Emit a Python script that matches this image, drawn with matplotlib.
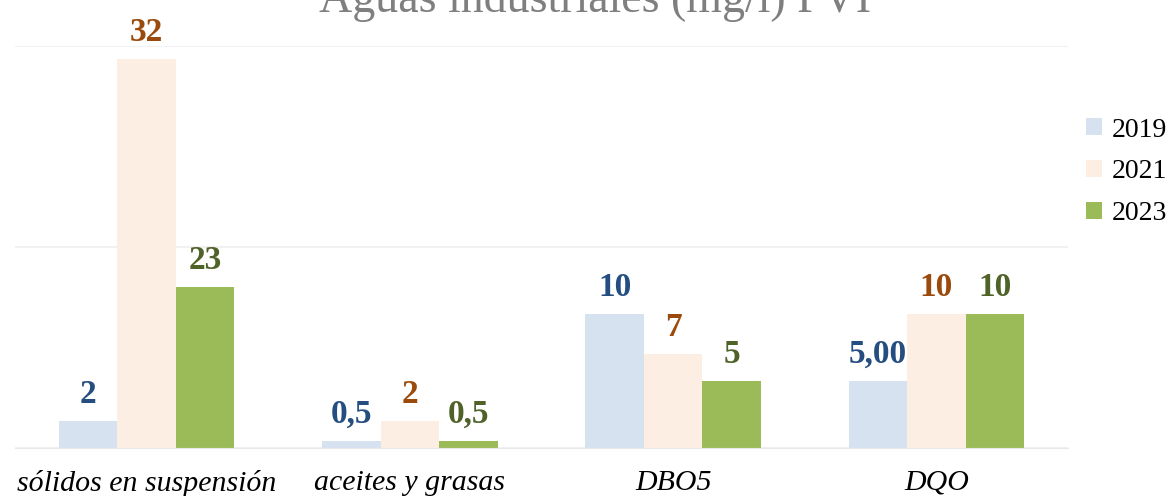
import matplotlib.pyplot as plt
import numpy as np

categories = ["sólidos en suspensión", "aceites y grasas", "DBO5", "DQO"]
years = ["2019", "2021", "2023"]
# bar heights as drawn
values_2019 = [2, 0.5, 10, 5]
values_2021 = [29, 2, 7, 10]
values_2023 = [12, 0.5, 5, 10]
# data label texts as printed
labels_2019 = ["2", "0,5", "10", "5,00"]
labels_2021 = ["32", "2", "7", "10"]
labels_2023 = ["23", "0,5", "5", "10"]

bar_colors = ["#d7e2f1", "#fdeee3", "#9bbb59"]
text_colors = ["#254e80", "#9a4a0c", "#4f6228"]

plt.rcParams["font.family"] = ["Liberation Serif", "DejaVu Serif"]

fig = plt.figure(figsize=(11.73, 4.96), dpi=100)
ax = fig.add_axes([0.0128, 0.0968, 0.8977, 0.8105])

x = np.arange(len(categories))
width = 0.222
series = [values_2019, values_2021, values_2023]
texts = [labels_2019, labels_2021, labels_2023]

for i, (vals, labs) in enumerate(zip(series, texts)):
    pos = x + (i - 1) * width
    ax.bar(pos, vals, width, color=bar_colors[i], label=years[i], zorder=2)
    for px, v, lab in zip(pos, vals, labs):
        ax.annotate(lab, (px, v), xytext=(0, 13), textcoords="offset points",
                    ha="center", va="baseline", fontsize=24, fontweight="bold",
                    color=text_colors[i])

ax.set_xlim(-0.5, len(categories) - 0.5)
ax.set_ylim(0, 30)
ax.set_yticks([0, 15, 30])
ax.yaxis.grid(True, color="#efefef", linewidth=1.2, zorder=0)
ax.tick_params(axis="y", left=False, labelleft=False)
ax.tick_params(axis="x", bottom=False, pad=12)
ax.set_xticks(x)
ax.set_xticklabels(categories, fontsize=21.5, style="italic")
for s in ["top", "right", "left"]:
    ax.spines[s].set_visible(False)
ax.spines["bottom"].set_color("#e8e8e8")

fig.text(0.507, 0.975, "Aguas industriales (mg/l) PVI", ha="center",
         va="baseline", fontsize=33, color="#7f7f7f")

ax.legend(loc="center left", bbox_to_anchor=(0.999, 0.687), frameon=False,
          fontsize=20, handlelength=0.55, handleheight=0.55,
          handletextpad=0.35, labelspacing=0.6, borderaxespad=0.3)

fig.savefig("out.png", dpi=100)
